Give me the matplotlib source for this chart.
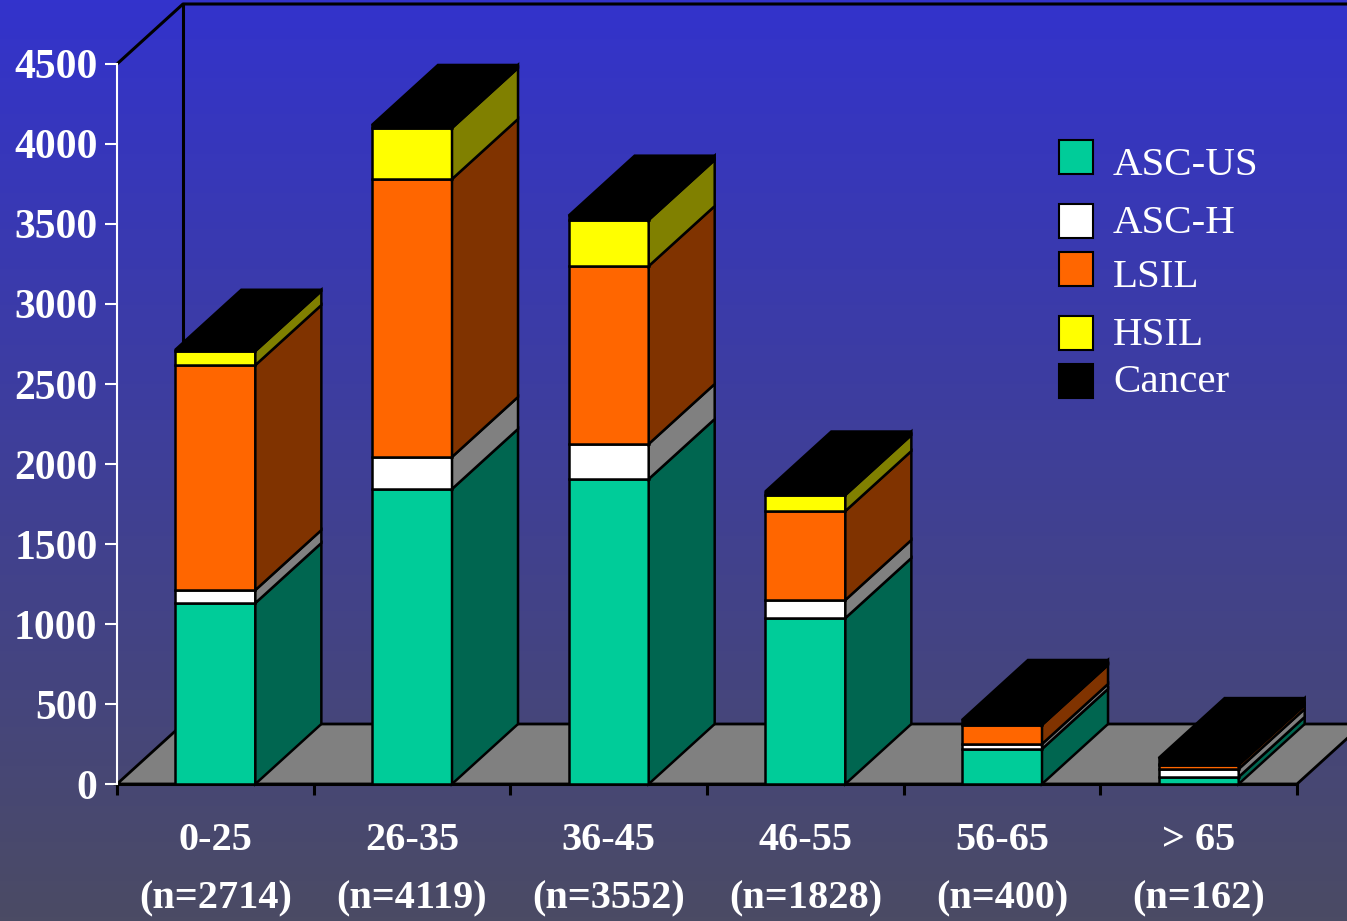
import numpy as np
import matplotlib.pyplot as plt
from matplotlib.patches import Polygon, Rectangle

# age groups and case counts per cytology result
groups = ["0-25", "26-35", "36-45", "46-55", "56-65", "> 65"]
totals = [2714, 4119, 3552, 1828, 400, 162]
series = ["ASC-US", "ASC-H", "LSIL", "HSIL", "Cancer"]
asc_us = [1131, 1844, 1906, 1037, 219, 44]
asc_h = [81, 200, 219, 113, 31, 50]
lsil = [1406, 1737, 1112, 556, 119, 25]
hsil = [88, 319, 288, 100, 6, 5]
cancer = [8, 19, 27, 22, 25, 38]

front_colors = ["#00CC99", "#FFFFFF", "#FF6600", "#FFFF00", "#000000"]
side_colors = ["#006650", "#808080", "#803300", "#808000", "#000000"]

W, H = 1347, 921
fig = plt.figure(figsize=(W / 100, H / 100), dpi=100)


def px(x, y):
    # pixel position (from top-left) -> figure fraction
    return x / W, 1 - y / H


# background gradient
bg = fig.add_axes([0, 0, 1, 1], zorder=-10)
top_c = np.array([51, 51, 204]) / 255
bot_c = np.array([75, 75, 100]) / 255
t = np.linspace(0, 1, 256)[:, None]
grad = top_c[None, :] * (1 - t) + bot_c[None, :] * t
bg.imshow(grad[:, None, :], aspect="auto", extent=[0, 1, 0, 1])
bg.axis("off")

ax = fig.add_axes([117 / W, 1 - 784 / H, 1180 / W, 720 / H])
ax.set_facecolor("none")
ax.set_xlim(-0.5, len(groups) - 0.5)
ax.set_ylim(0, 4500)

bar_w = 0.407
dx = 0.3356   # depth offset in category units
dy = 375      # depth offset in data units
n = len(groups)
ymax = 4500
lw = 1.8

# floor
floor = Polygon([(-0.5, 0), (-0.5 + dx, dy), (n - 0.5 + dx, dy), (n - 0.5, 0)],
                closed=True, facecolor="#808080", edgecolor="black", lw=2,
                clip_on=False, zorder=1)
ax.add_patch(floor)

# wall edges
ax.plot([-0.5, -0.5 + dx, n - 0.5 + dx], [ymax, ymax + dy, ymax + dy],
        color="black", lw=2.2, clip_on=False, zorder=1)
ax.plot([-0.5 + dx, -0.5 + dx], [dy, ymax + dy], color="black", lw=2.2,
        clip_on=False, zorder=1)

stack = [asc_us, asc_h, lsil, hsil, cancer]
x = np.arange(n)
bottoms = np.zeros(n)
for k, vals in enumerate(stack):
    vals = np.array(vals, dtype=float)
    ax.bar(x, vals, bottom=bottoms, width=bar_w, color=front_colors[k],
           edgecolor="black", lw=lw, zorder=3, clip_on=False)
    for i in range(n):
        x1 = x[i] + bar_w / 2
        y0 = bottoms[i]
        y1 = bottoms[i] + vals[i]
        side = Polygon([(x1, y0), (x1 + dx, y0 + dy), (x1 + dx, y1 + dy), (x1, y1)],
                       closed=True, facecolor=side_colors[k], edgecolor="black",
                       lw=lw, clip_on=False, zorder=3)
        ax.add_patch(side)
    bottoms = bottoms + vals

# top faces
for i in range(n):
    x0 = x[i] - bar_w / 2
    x1 = x[i] + bar_w / 2
    yt = bottoms[i]
    top = Polygon([(x0, yt), (x0 + dx, yt + dy), (x1 + dx, yt + dy), (x1, yt)],
                  closed=True, facecolor=front_colors[-1], edgecolor="black",
                  lw=lw, clip_on=False, zorder=4)
    ax.add_patch(top)

# axes styling
for s in ["top", "right"]:
    ax.spines[s].set_visible(False)
ax.spines["left"].set_color("white")
ax.spines["left"].set_linewidth(1.5)
ax.spines["bottom"].set_color("black")
ax.spines["bottom"].set_linewidth(2.2)
ax.spines["bottom"].set_zorder(2)

serif = ["Liberation Serif", "DejaVu Serif"]
ax.set_yticks(np.arange(0, 4501, 500))
ax.set_yticklabels([str(v) for v in range(0, 4501, 500)], fontsize=30,
                   fontweight="bold", family=serif, color="white")
ax.tick_params(axis="y", colors="white", length=9, width=1.5, pad=5)

ax.set_xticks(np.arange(-0.5, n, 1.0))
ax.set_xticklabels([])
ax.tick_params(axis="x", which="major", colors="black", length=8, width=2.2)
ax.set_xticks(x, minor=True)
ax.set_xticklabels([f"{g}\n(n={tt})" for g, tt in zip(groups, totals)], minor=True,
                   fontsize=29, fontweight="bold", family=serif, color="white",
                   linespacing=1.78)
ax.tick_params(axis="x", which="minor", length=0, pad=27)

# legend, drawn by hand to keep its uneven row spacing
box_y = [157, 221, 269, 333, 381]
text_y = [175, 233, 287, 345, 392]
for k, name in enumerate(series):
    bx, by = px(1059, box_y[k] + 17)
    fig.add_artist(Rectangle((bx, by), 34 / W, 34 / H, transform=fig.transFigure,
                             facecolor=front_colors[k], edgecolor="black", lw=1.5))
    tx, ty = px(1113, text_y[k])
    fig.text(tx, ty, name, fontsize=29.5, family=serif, color="white",
             va="baseline", ha="left")

fig.savefig("out.png", dpi=100)
